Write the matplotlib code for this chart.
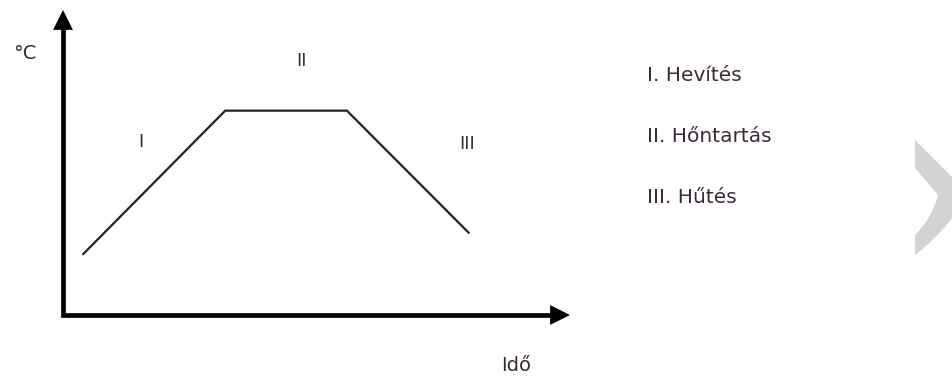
import matplotlib
matplotlib.use("Agg")
import matplotlib.pyplot as plt
from matplotlib.patches import PathPatch
from matplotlib.path import Path

# heat treatment profile (time in arbitrary units, temperature in arbitrary units)
time = [4, 32, 56, 80]
temp = [20, 67, 67, 27]

# phase labels on the chart and their positions
phase_labels = ["I", "II", "III"]
phase_x = [15.4, 47.1, 79.7]
phase_y = [56.7, 83.3, 56.1]

# legend entries at the right
legend_items = ["I. Hevítés", "II. Hőntartás", "III. Hűtés"]
legend_y = [0.80, 0.636, 0.476]

txt = "#3a2a3a"
fs = 14

fig = plt.figure(figsize=(9.53, 3.76), dpi=100)
ax = fig.add_axes([63 / 953, 1 - 315 / 376, 507 / 953, 305 / 376])
ax.set_xlim(0, 100)
ax.set_ylim(0, 100)
for s in ax.spines.values():
    s.set_visible(False)
ax.set_xticks([])
ax.set_yticks([])
ax.patch.set_alpha(0)

# axes lines meeting at the origin, then arrowheads
ax.plot([0, 0, 0.975], [0.975, 0, 0], transform=ax.transAxes, color="black",
        lw=3.4, solid_joinstyle="miter", solid_capstyle="butt", clip_on=False)
head = dict(arrowstyle="-|>,head_length=1.1,head_width=0.55", lw=0,
            color="black", shrinkA=0, shrinkB=0, mutation_scale=13)
ax.annotate("", xy=(1, 0), xytext=(0.96, 0), xycoords="axes fraction",
            arrowprops=head, annotation_clip=False)
ax.annotate("", xy=(0, 1), xytext=(0, 0.94), xycoords="axes fraction",
            arrowprops=head, annotation_clip=False)

ax.plot(time, temp, color="#222222", lw=1.6, solid_joinstyle="miter")

for lab, x, y in zip(phase_labels, phase_x, phase_y):
    ax.text(x, y, lab, ha="center", va="center", fontsize=fs - 1, color=txt)

ax.text(-0.075, 0.859, "°C", transform=ax.transAxes, ha="center",
        va="center", fontsize=fs, color=txt)
ax.text(0.893, -0.164, "Idő", transform=ax.transAxes, ha="center",
        va="center", fontsize=fs, color=txt)

for item, y in zip(legend_items, legend_y):
    fig.text(647 / 953, y, item, ha="left", va="center", fontsize=fs + 0.5,
             color=txt)

# grey chevron decoration at the right edge (figure pixels)
W, H = 953, 376
pts = [(915, 140), (953, 178), (953, 217), (935, 240), (915, 255),
       (915, 235), (933, 217), (938, 195), (915, 168), (915, 140)]
codes = [Path.MOVETO, Path.LINETO, Path.LINETO, Path.CURVE3, Path.CURVE3,
         Path.LINETO, Path.CURVE3, Path.CURVE3, Path.LINETO, Path.CLOSEPOLY]
verts = [(x / W, 1 - y / H) for x, y in pts]
fig.patches.append(PathPatch(Path(verts, codes), transform=fig.transFigure,
                             facecolor="#d3d3d3", edgecolor="none"))

fig.savefig("out.png", dpi=100, facecolor="white")
